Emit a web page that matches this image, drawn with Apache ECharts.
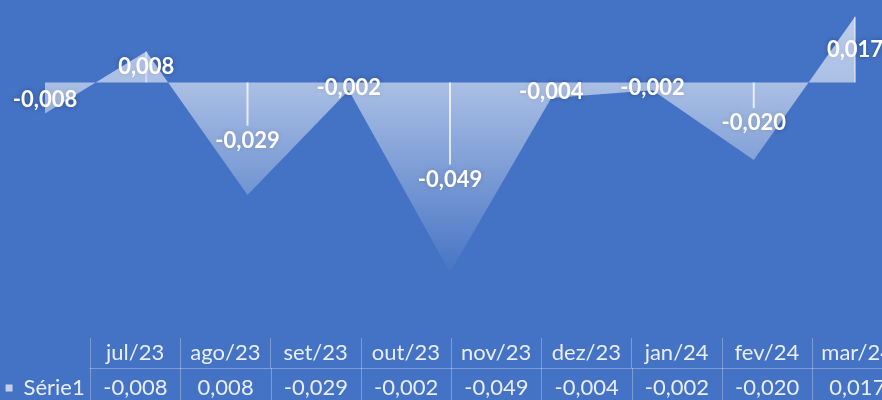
<!DOCTYPE html>
<html><head><meta charset="utf-8">
<script src="https://cdn.jsdelivr.net/npm/echarts@6/dist/echarts.min.js"></script>
<style>html,body{margin:0;padding:0;background:#4472c4}#c{width:882px;height:400px}</style>
</head><body><div id="c"></div>
<script>
// ---- data ----
const categories = ['jul/23','ago/23','set/23','out/23','nov/23','dez/23','jan/24','fev/24','mar/24'];
const seriesName = 'Série1';
const values = [-0.008, 0.008, -0.029, -0.002, -0.049, -0.004, -0.002, -0.020, 0.017];
const yMin = -0.06;
const yMax = 0.02;

// ---- helpers ----
const fmt = v => v.toFixed(3).replace('.', ',');
const FONT = 'Lato, "Open Sans", sans-serif';
const lineColor = 'rgba(255,255,255,0.3)';
const textColor = '#e9eef8';
const rowLabels = [seriesName].concat(values.map(fmt));

const chart = echarts.init(document.getElementById('c'), null, {renderer: 'canvas'});

const option = {
  backgroundColor: '#4472c4',
  animation: false,
  grid: [
    {left: 45, right: 27, top: 5, height: 310, outerBoundsMode: 'none'},
    {left: 90, right: -20.25, top: 338, height: 30, outerBoundsMode: 'none'},
    {left: 0, right: -20.5, top: 368, height: 40, outerBoundsMode: 'none'}
  ],
  xAxis: [
    {gridIndex: 0, type: 'category', data: categories, boundaryGap: false, show: false},
    {gridIndex: 1, type: 'category', data: categories, position: 'top', boundaryGap: true,
      axisLine: {show: true, lineStyle: {color: lineColor, width: 1}},
      axisTick: {show: false},
      splitLine: {show: true, interval: 0, lineStyle: {color: lineColor, width: 1}},
      axisLabel: {inside: true, interval: 0, margin: 15, verticalAlign: 'middle',
        color: textColor, fontFamily: FONT, fontSize: 22}},
    {gridIndex: 2, type: 'category', data: rowLabels, position: 'top', boundaryGap: true,
      axisLine: {show: true, lineStyle: {color: lineColor, width: 1}},
      axisTick: {show: false},
      splitLine: {show: true, interval: 0, showMinLine: false, lineStyle: {color: lineColor, width: 1}},
      axisLabel: {inside: true, interval: 0, margin: 20, verticalAlign: 'middle',
        color: textColor, fontFamily: FONT, fontSize: 22,
        formatter: (v, i) => i === 0 ? '{k|}{s|}{n|' + v + '}' : v,
        rich: {
          k: {width: 7, height: 7, backgroundColor: '#c5cfe6', verticalAlign: 'middle'},
          s: {width: 11},
          n: {color: textColor, fontFamily: FONT, fontSize: 22}
        }}}
  ],
  yAxis: [
    {gridIndex: 0, type: 'value', min: yMin, max: yMax, show: false},
    {gridIndex: 1, type: 'value', show: false},
    {gridIndex: 2, type: 'value', show: false}
  ],
  series: [
    {
      type: 'line', xAxisIndex: 0, yAxisIndex: 0,
      data: values, symbol: 'none',
      lineStyle: {width: 0, opacity: 0},
      areaStyle: {
        opacity: 1,
        color: {type: 'linear', x: 0, y: 0, x2: 0, y2: 280, global: true,
          colorStops: [
            {offset: 0, color: 'rgba(255,255,255,0.68)'},
            {offset: 0.293, color: 'rgba(255,255,255,0.55)'},
            {offset: 1, color: 'rgba(255,255,255,0.0)'}
          ]}
      }
    },
    {
      type: 'custom', xAxisIndex: 0, yAxisIndex: 0,
      data: values.map((v, i) => [i, v]),
      renderItem: (params, api) => {
        const i = api.value(0), v = api.value(1);
        const p0 = api.coord([i, 0]);
        const pv = api.coord([i, v]);
        const pm = api.coord([i, v / 2]);
        const ly = pm[1] + (v < 0 ? 2 : 0);
        const children = [];
        if (v < 0) {
          const end = ly - 15;
          if (end > p0[1] + 3) {
            children.push({type: 'line', shape: {x1: p0[0], y1: p0[1], x2: p0[0], y2: end},
              style: {stroke: 'rgba(255,255,255,0.75)', lineWidth: 2}});
          }
        } else {
          children.push({type: 'line', shape: {x1: pv[0], y1: pv[1], x2: p0[0], y2: p0[1]},
            style: {stroke: 'rgba(255,255,255,0.45)', lineWidth: 2}});
        }
        children.push({type: 'text', x: pm[0], y: ly,
          style: {text: fmt(v), fill: '#ffffff', fontSize: 22, fontWeight: 'bold', fontFamily: FONT,
            align: 'center', verticalAlign: 'middle',
            textShadowColor: 'rgba(0,0,40,0.35)', textShadowBlur: 4}});
        return {type: 'group', children: children};
      }
    }
  ]
};
chart.setOption(option);
</script>
</body></html>
